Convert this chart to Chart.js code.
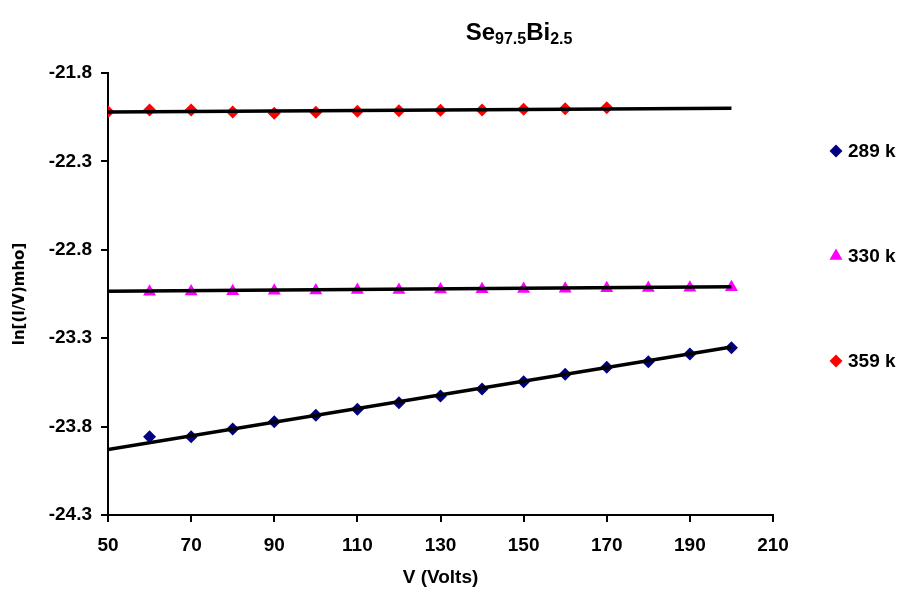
<!DOCTYPE html>
<html lang="en">
<head>
    <meta charset="UTF-8">
    <title>Se97.5Bi2.5</title>
    <style>
        body {
            margin: 0;
            background: #fff;
        }
        .wrap {
            width: 905px;
            height: 589px;
            position: relative;
        }
    </style>
    <script src="https://cdn.jsdelivr.net/npm/chart.js"></script>
</head>
<body>

<div class="wrap">
    <canvas id="chart"></canvas>
</div>

<script>
    // Voltages (V) for each temperature
    const volts289 = [60, 70, 80, 90, 100, 110, 120, 130, 140, 150, 160, 170, 180, 190, 200];
    const volts330 = [60, 70, 80, 90, 100, 110, 120, 130, 140, 150, 160, 170, 180, 190, 200];
    const volts359 = [50, 60, 70, 80, 90, 100, 110, 120, 130, 140, 150, 160, 170];

    // ln[(I/V)mho] values
    const ln289 = [-23.857, -23.857, -23.814, -23.772, -23.736, -23.702, -23.665, -23.627,
                   -23.587, -23.546, -23.504, -23.465, -23.433, -23.389, -23.354];
    const ln330 = [-23.037, -23.036, -23.034, -23.032, -23.030, -23.028, -23.027, -23.025,
                   -23.023, -23.022, -23.020, -23.018, -23.016, -23.014, -23.012];
    const ln359 = [-22.019, -22.009, -22.009, -22.021, -22.028, -22.022, -22.017, -22.013,
                   -22.011, -22.009, -22.005, -22.002, -21.996];

    // linear trend lines (end points)
    const trendX = [50, 200];
    const trend289 = [-23.93, -23.35];
    const trend330 = [-23.035, -23.009];
    const trend359 = [-22.020, -22.000];

    const xTicks = [50, 70, 90, 110, 130, 150, 170, 190, 210];
    const yTicks = [-24.3, -23.8, -23.3, -22.8, -22.3, -21.8];

    const seriesLabels = ['289 k', '330 k', '359 k'];
    const titleParts = [['Se', false], ['97.5', true], ['Bi', false], ['2.5', true]];

    const pts = (xs, ys) => xs.map((x, i) => ({ x: x, y: ys[i] }));

    const FONT = '"Liberation Sans", Arial, sans-serif';

    function trend(xs, ys) {
        return {
            data: pts(xs, ys),
            showLine: true,
            borderColor: '#000',
            borderWidth: 3.5,
            pointRadius: 0,
            order: 0,
            isTrend: true
        };
    }

    function markers(label, xs, ys, style, color, r) {
        return {
            label: label,
            data: pts(xs, ys),
            showLine: false,
            pointStyle: style,
            pointRadius: r,
            pointBackgroundColor: color,
            pointBorderColor: color,
            pointBorderWidth: 0,
            order: 1
        };
    }

    // title with subscripts
    const titlePlugin = {
        id: 'subTitle',
        afterDraw(chart) {
            const ctx = chart.ctx;
            ctx.save();
            const big = 'bold 24px ' + FONT, small = 'bold 16px ' + FONT;
            let w = 0;
            titleParts.forEach(p => { ctx.font = p[1] ? small : big; w += ctx.measureText(p[0]).width; });
            let x = 519 - w / 2;
            ctx.fillStyle = '#000';
            ctx.textBaseline = 'alphabetic';
            ctx.textAlign = 'left';
            titleParts.forEach(p => {
                ctx.font = p[1] ? small : big;
                ctx.fillText(p[0], x, p[1] ? 44 : 40);
                x += ctx.measureText(p[0]).width;
            });
            ctx.restore();
        }
    };

    // legend on the right, spread out like the original
    const legendPlugin = {
        id: 'sideLegend',
        afterDraw(chart) {
            const ctx = chart.ctx;
            const rows = [151, 256, 361];
            ctx.save();
            chart.data.datasets.filter(d => !d.isTrend).forEach((d, i) => {
                ctx.fillStyle = d.pointBackgroundColor;
                ctx.strokeStyle = d.pointBackgroundColor;
                Chart.helpers.drawPoint(ctx, {
                    pointStyle: d.pointStyle,
                    radius: d.pointRadius,
                    borderWidth: 0
                }, 836, rows[i]);
                ctx.fillStyle = '#000';
                ctx.font = 'bold 19px ' + FONT;
                ctx.textAlign = 'left';
                ctx.textBaseline = 'middle';
                ctx.fillText(d.label, 848, rows[i] + 1);
            });
            ctx.restore();
        }
    };

    const ctx = document.getElementById('chart').getContext('2d');
    new Chart(ctx, {
        type: 'scatter',
        data: {
            datasets: [
                trend(trendX, trend289),
                trend(trendX, trend330),
                trend(trendX, trend359),
                markers(seriesLabels[0], volts289, ln289, 'rectRot', '#000080', 6.5),
                markers(seriesLabels[1], volts330, ln330, 'triangle', '#FF00FF', 7.5),
                markers(seriesLabels[2], volts359, ln359, 'rectRot', '#FF0000', 6.5)
            ]
        },
        options: {
            responsive: true,
            maintainAspectRatio: false,
            animation: false,
            layout: {
                padding: { left: 0, right: 132, top: 73, bottom: 0 }
            },
            plugins: {
                legend: { display: false },
                title: { display: false },
                tooltip: { enabled: false }
            },
            scales: {
                x: {
                    type: 'linear',
                    min: 50,
                    max: 210,
                    afterBuildTicks: s => { s.ticks = xTicks.map(v => ({ value: v })); },
                    afterFit: s => { s.height = 74; },
                    border: { color: '#000', width: 2 },
                    grid: { display: true, drawOnChartArea: false, color: '#000', lineWidth: 2, tickLength: 7 },
                    ticks: {
                        color: '#000',
                        padding: 12,
                        maxRotation: 0,
                        font: { family: FONT, size: 19, weight: 'bold' }
                    },
                    title: {
                        display: true,
                        text: 'V (Volts)',
                        color: '#000',
                        padding: { top: 0, bottom: 0 },
                        font: { family: FONT, size: 19, weight: 'bold' }
                    }
                },
                y: {
                    type: 'linear',
                    min: -24.3,
                    max: -21.8,
                    afterBuildTicks: s => { s.ticks = yTicks.map(v => ({ value: v })); },
                    afterFit: s => { s.width = 108; },
                    border: { color: '#000', width: 2 },
                    grid: { display: true, drawOnChartArea: false, color: '#000', lineWidth: 2, tickLength: 7 },
                    ticks: {
                        color: '#000',
                        padding: 9,
                        callback: v => v.toFixed(1),
                        font: { family: FONT, size: 19, weight: 'bold' }
                    },
                    title: {
                        display: true,
                        text: 'ln[(I/V)mho]',
                        color: '#000',
                        padding: { top: 11, bottom: 0 },
                        font: { family: '"DejaVu Sans", sans-serif', size: 15, weight: 'bold' }
                    }
                }
            }
        },
        plugins: [titlePlugin, legendPlugin]
    });
</script>

</body>
</html>
